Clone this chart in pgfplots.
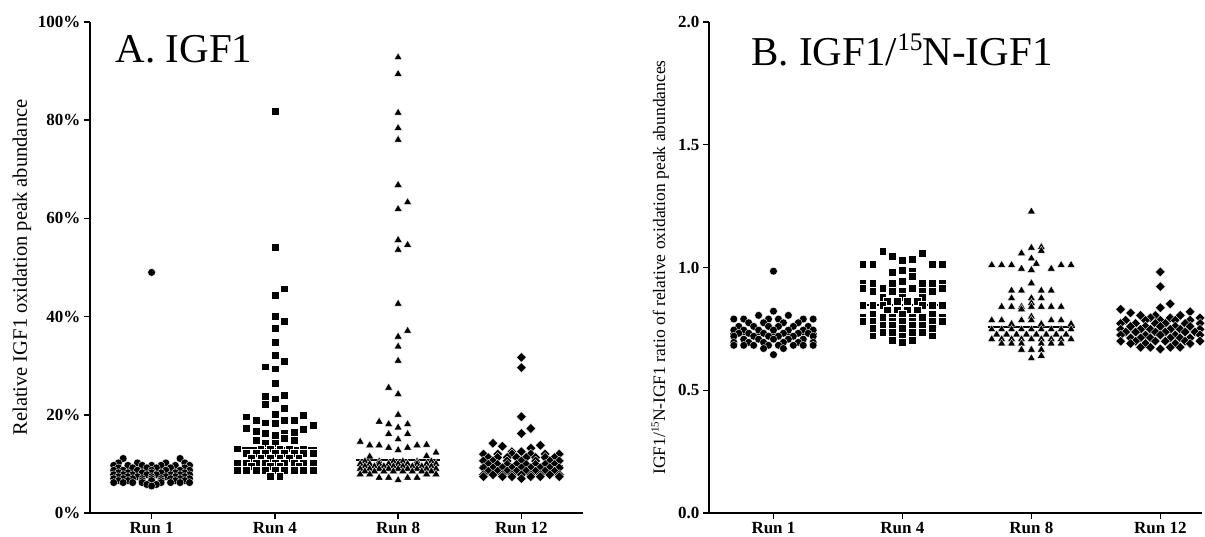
\documentclass[border=0pt]{standalone}
\usepackage{fontspec}
\setmainfont{Liberation Serif}
\usepackage{graphicx}
\usepackage{pgfplots}
\pgfplotsset{compat=1.18}

\newcommand\sups[1]{\raisebox{0.8ex}{\scalebox{0.62}{#1}}}

\pgfplotsset{
  swarm/.style={
    scale only axis, width=493pt, height=491pt,
    axis x line*=bottom, axis y line*=left,
    axis line style={line width=2pt,-},
    tick align=outside, major tick length=6pt,
    tick style={line width=1.5pt,black},
    xtick={13,26,39,52}, xticklabels={Run 1,Run 4,Run 8,Run 12},
    ticklabel style={font=\bfseries\fontsize{17}{17}\selectfont},
    xmin=6.5, ymin=0, clip=false,
  },
  dots/.style={only marks, mark=*, mark size=3.9pt, mark options={fill=black, draw=white, line width=0.35pt}},
  boxes/.style={only marks, mark=square*, mark size=3.9pt, mark options={fill=black, draw=white, line width=0.35pt}},
  tris/.style={only marks, mark=triangle*, mark size=4.6pt, mark options={fill=black, draw=white, line width=0.35pt}},
  dias/.style={only marks, mark=square*, mark size=3.5pt, mark options={rotate=45, fill=black, draw=white, line width=0.35pt}},
  med/.style={black, line width=2pt},
}

\begin{document}
\begin{tikzpicture}
\useasboundingbox (0,0) rectangle (1205pt,536pt);

% ---------------- A. IGF1 ----------------
\begin{axis}[swarm, at={(90pt,23pt)}, anchor=south west,
  xmax=58.5, ymax=100,
  ytick={0,20,40,60,80,100}, yticklabels={0\%,20\%,40\%,60\%,80\%,100\%},
  ylabel={Relative IGF1 oxidation peak abundance},
  ylabel style={font=\fontsize{20.5}{20.5}\selectfont, at={(axis description cs:-0.138,0.5)}, anchor=center}]

% Run 1
\addplot[dots] coordinates {
(13,49)
(10,11.1) (16,11.1)
(9.5,10.2) (11.5,10.2) (14.5,10.2) (16.5,10.2)
(9,9.7) (10.5,9.7) (12,9.7) (13,9.7) (14,9.7) (15.5,9.7) (17,9.7)
(9.5,9.2) (11,9.2) (12.5,9.2) (13.5,9.2) (15,9.2) (16.5,9.2)
(9,8.7) (10,8.7) (11.5,8.7) (13,8.7) (14.5,8.7) (16,8.7) (17,8.7)
(9.5,8.2) (10.5,8.2) (12,8.2) (13,8.2) (14,8.2) (15.5,8.2) (16.5,8.2)
(9,7.8) (10,7.8) (11,7.8) (12.5,7.8) (13.5,7.8) (15,7.8) (16,7.8) (17,7.8)
(9.5,7.4) (10.5,7.4) (11.5,7.4) (13,7.4) (14.5,7.4) (15.5,7.4) (16.5,7.4)
(9,7.0) (10,7.0) (11,7.0) (12,7.0) (13,7.0) (14,7.0) (15,7.0) (16,7.0) (17,7.0)
(9.5,6.6) (10.5,6.6) (12,6.6) (13,6.6) (14,6.6) (15.5,6.6) (16.5,6.6)
(9,6.2) (10,6.2) (11,6.2) (12,6.2) (14,6.2) (15,6.2) (16,6.2) (17,6.2)
(12.5,5.8) (13.5,5.8) (13,5.5)
};
% Run 4
\addplot[boxes] coordinates {
(26,81.9) (26,54.2) (27,45.7) (26,44.3) (26,40.1) (27,39.0) (26,37.7) (26,34.8)
(26,32.1) (27,31.0) (25,29.8) (26,29.4) (26,26.5) (25,23.8) (26,23.3) (27,24.0)
(25,22.1) (27,21.4) (26,20.2) (23,19.6) (29,19.9) (24,18.9) (28,18.9) (27,18.9)
(25,18.4) (26,18.3) (30,17.9) (23,17.2) (29,17.1) (24,16.6) (25,16.2) (26,15.9)
(27,16.3) (28,16.5) (28,14.8) (27,15.2) (24,14.8) (25,14.2) (26,14.3)
(22,13.1) (24.5,13.1) (25.5,13.1) (26.5,13.1) (27.5,13.1) (29,13.1)
(23,12.2) (24,12.2) (25,12.2) (26,12.2) (27,12.2) (28,12.2) (29,12.2) (30,12.2)
(23.5,11.2) (24.5,11.2) (25.5,11.2) (26.5,11.2) (27.5,11.2) (28.5,11.2)
(22,10.1) (23,10.1) (24,10.1) (25,10.1) (26,10.1) (27,10.1) (28,10.1) (29,10.1) (30,10.1)
(23.5,9.5) (25.5,9.5) (26.5,9.5) (28.5,9.5)
(22,8.8) (23,8.8) (24,8.8) (25,8.8) (26,8.8) (27,8.8) (28,8.8) (29,8.8) (30,8.8)
(25.5,7.5) (26.5,7.5)
};
% Run 8
\addplot[tris] coordinates {
(39,92.8) (39,89.4) (39,81.5) (39,78.4) (39,76.0) (39,66.8) (40,63.3) (39,61.9)
(39,55.6) (40,54.6) (39,53.6) (39,42.6) (40,37.1) (39,35.9) (39,33.9) (39,31.0)
(38,25.5) (39,24.2) (39,20.0) (37,18.6) (38,18.1) (40,18.1) (39,17.4) (38,16.1)
(40,16.1) (39,15.0) (35,14.5) (36,13.8) (37,13.8) (38,13.3) (39,12.8) (40,13.3)
(41,13.8) (42,13.9) (43,12.3) (36,11.5) (42,11.6)
(35.5,10.5) (37,10.5) (38.5,10.5) (39.5,10.5) (41,10.5) (42.5,10.5)
(35,10.0) (36,10.0) (37,10.0) (38,10.0) (39,10.0) (40,10.0) (41,10.0) (42,10.0) (43,10.0)
(35.5,9.5) (36.5,9.5) (37.5,9.5) (38.5,9.5) (39.5,9.5) (40.5,9.5) (41.5,9.5) (42.5,9.5)
(35,9.0) (36,9.0) (37,9.0) (38,9.0) (39,9.0) (40,9.0) (41,9.0) (42,9.0) (43,9.0)
(35.5,8.5) (36.5,8.5) (37.5,8.5) (38.5,8.5) (39.5,8.5) (40.5,8.5) (41.5,8.5) (42.5,8.5)
(35,7.9) (36,7.9) (42,7.9) (43,7.9)
(37,7.2) (38,7.2) (40,7.2) (41,7.2) (39,6.7)
};
% Run 12
\addplot[dias] coordinates {
(52,31.7) (52,29.6) (52,19.6) (53,17.2) (52,16.2) (49,14.2) (50,13.6) (51,12.5)
(52,12.5) (53,13.2) (54,13.8)
(48,12.0) (49.5,12.0) (51,12.0) (53,12.0) (54.5,12.0) (56,12.0)
(48.5,11.3) (49.5,11.3) (50.5,11.3) (51.5,11.3) (52.5,11.3) (53.5,11.3) (54.5,11.3) (55.5,11.3)
(48,10.6) (49,10.6) (50.5,10.6) (52,10.6) (53.5,10.6) (55,10.6) (56,10.6)
(48.5,9.9) (49.5,9.9) (50.5,9.9) (51.5,9.9) (52.5,9.9) (53.5,9.9) (54.5,9.9) (55.5,9.9)
(48,9.2) (49,9.2) (50,9.2) (51,9.2) (52,9.2) (53,9.2) (54,9.2) (55,9.2) (56,9.2)
(48.5,8.5) (49.5,8.5) (50.5,8.5) (51.5,8.5) (52.5,8.5) (53.5,8.5) (54.5,8.5) (55.5,8.5)
(48,7.8) (49,7.8) (50,7.8) (51,7.8) (52,7.8) (53,7.8) (54,7.8) (55,7.8) (56,7.8)
(48,7.4) (50,7.4) (51,7.4) (53,7.4) (54,7.4) (56,7.4) (52,7.0)
};
% medians
\addplot[med] coordinates {(8.6,7.5) (17.4,7.5)};
\addplot[med] coordinates {(21.6,13.2) (30.4,13.2)};
\addplot[med] coordinates {(34.6,10.8) (43.4,10.8)};
\addplot[med] coordinates {(47.6,9.6) (56.4,9.6)};

\node[anchor=base west, font=\fontsize{41}{41}\selectfont] at (rel axis cs:0.045,0.9165) {A. IGF1};
\end{axis}

% ---------------- B. IGF1/15N-IGF1 ----------------
\begin{axis}[swarm, at={(709pt,23pt)}, anchor=south west,
  xmax=56.2, ymax=2,
  ytick={0,0.5,1,1.5,2}, yticklabels={0.0,0.5,1.0,1.5,2.0},
  ylabel={IGF1/\sups{15}N-IGF1 ratio of relative oxidation peak abundances},
  ylabel style={font=\fontsize{17.5}{17.5}\selectfont, at={(axis description cs:-0.099,0.5)}, anchor=center}]

% Run 1
\addplot[dots] coordinates {
(13,0.985) (13,0.822) (11.5,0.805) (14.5,0.805)
(9,0.790) (10,0.790) (12.5,0.790) (13.5,0.790) (16,0.790) (17,0.790)
(10.5,0.775) (12,0.775) (14,0.775) (15.5,0.775)
(9.5,0.760) (11,0.760) (12.5,0.760) (13.5,0.760) (15,0.760) (16.5,0.760)
(9,0.745) (10,0.745) (11.5,0.745) (13,0.745) (14.5,0.745) (16,0.745) (17,0.745)
(9.5,0.732) (10.5,0.732) (12,0.732) (14,0.732) (15.5,0.732) (16.5,0.732)
(9,0.720) (11,0.720) (12.5,0.720) (13.5,0.720) (15,0.720) (17,0.720)
(10,0.708) (11.5,0.708) (13,0.708) (14.5,0.708) (16,0.708)
(9,0.695) (10.5,0.695) (12,0.695) (14,0.695) (15.5,0.695) (17,0.695)
(9,0.683) (10,0.683) (11,0.683) (12.5,0.683) (13.5,0.683) (15,0.683) (16,0.683) (17,0.683)
(12,0.670) (14,0.670) (13,0.645)
};
% Run 4
\addplot[boxes] coordinates {
(24,1.065) (28,1.057) (25,1.047) (27,1.033) (26,1.030)
(22,1.015) (23,1.015) (29,1.015) (30,1.015)
(26,0.990) (25,0.982) (27,0.985) (27,0.965) (26,0.943)
(22,0.936) (23,0.936) (25,0.936) (28,0.936) (29,0.936) (30,0.936)
(22,0.915) (24,0.915) (27,0.915) (30,0.915)
(23,0.902) (25,0.902) (26,0.902) (28,0.902) (29,0.902)
(24,0.880) (26,0.880) (28,0.880)
(24.5,0.862) (25.5,0.862) (26.5,0.862) (27.5,0.862)
(22,0.848) (23,0.848) (24,0.848) (28,0.848) (29,0.848) (30,0.848)
(24.5,0.828) (25.5,0.828) (26.5,0.828) (27.5,0.828)
(23,0.812) (26,0.812) (29,0.812)
(22,0.798) (24,0.798) (25,0.798) (27,0.798) (28,0.798) (30,0.798)
(22,0.780) (23,0.780) (25,0.780) (26,0.780) (27,0.780) (29,0.780) (30,0.780)
(24,0.765) (25,0.765) (27,0.765) (28,0.765)
(23,0.752) (26,0.752) (29,0.752)
(24,0.735) (25,0.735) (27,0.735) (28,0.735)
(23,0.722) (26,0.722) (29,0.722)
(25,0.705) (27,0.705) (26,0.695)
};
% Run 8
\addplot[tris] coordinates {
(39,1.228) (40,1.083) (39,1.080) (40,1.068) (38,1.058) (39,1.037) (39.5,1.015)
(35,1.010) (36,1.010) (37,1.010) (42,1.010) (43,1.010)
(38,0.995) (41,0.995) (39,0.990) (39,0.936)
(37,0.906) (38,0.906) (40,0.906) (41,0.906)
(37,0.875) (39,0.875) (40,0.875) (39,0.855)
(36,0.840) (37,0.840) (38,0.840) (39,0.840) (40,0.840) (41,0.840) (42,0.840)
(38,0.830) (39,0.800)
(35,0.785) (36,0.785) (38,0.785) (39,0.785) (41,0.785) (42,0.785)
(37,0.770) (40,0.770) (43,0.770)
(35,0.748) (36,0.748) (37,0.748) (38,0.748) (39,0.748) (40,0.748) (41,0.748) (42,0.748) (43,0.748)
(35.5,0.727) (36.5,0.727) (37.5,0.727) (38.5,0.727) (39.5,0.727) (40.5,0.727) (41.5,0.727) (42.5,0.727)
(35,0.708) (36,0.708) (37,0.708) (38,0.708) (39,0.708) (40,0.708) (41,0.708) (42,0.708) (43,0.708)
(36,0.690) (37,0.690) (38,0.690) (40,0.690) (41,0.690) (42,0.690)
(38,0.665) (39,0.665) (40,0.665) (39,0.630) (40,0.640)
};
% Run 12
\addplot[dias] coordinates {
(52,0.982) (52,0.922) (53,0.852) (52,0.836) (48,0.830) (55,0.820) (49,0.815)
(50,0.805) (51.5,0.805) (54,0.805)
(51,0.795) (53,0.795) (56,0.795)
(48.5,0.785) (50.5,0.785) (52,0.785) (53.5,0.785) (55,0.785)
(48,0.772) (49.5,0.772) (51.5,0.772) (52.5,0.772) (54.5,0.772) (56,0.772)
(49,0.760) (50.5,0.760) (52,0.760) (53.5,0.760) (55,0.760)
(48,0.748) (50,0.748) (51,0.748) (53,0.748) (54,0.748) (56,0.748)
(48.5,0.737) (49.5,0.737) (51.5,0.737) (52.5,0.737) (54.5,0.737) (55.5,0.737)
(48,0.725) (50.5,0.725) (52,0.725) (53.5,0.725) (56,0.725)
(49,0.713) (50,0.713) (51,0.713) (53,0.713) (54,0.713) (55,0.713)
(48,0.700) (49.5,0.700) (51.5,0.700) (52.5,0.700) (54.5,0.700) (56,0.700)
(49,0.690) (50.5,0.690) (53.5,0.690) (55,0.690)
(50,0.675) (51,0.675) (53,0.675) (54,0.675) (52,0.668)
};
% medians
\addplot[med] coordinates {(8.6,0.729) (17.4,0.729)};
\addplot[med] coordinates {(21.6,0.848) (30.4,0.848)};
\addplot[med] coordinates {(34.6,0.759) (43.4,0.759)};
\addplot[med] coordinates {(47.6,0.745) (56.4,0.745)};

\node[anchor=base west, font=\fontsize{41}{41}\selectfont] at (rel axis cs:0.079,0.911) {B. IGF1/\sups{15}N-IGF1};
\end{axis}
\end{tikzpicture}
\end{document}
